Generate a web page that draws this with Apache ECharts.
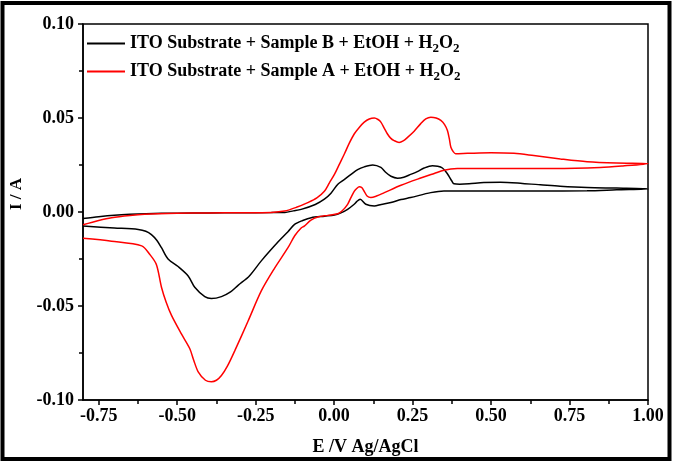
<!DOCTYPE html>
<html>
<head>
<meta charset="utf-8">
<script src="https://cdn.jsdelivr.net/npm/echarts@6/dist/echarts.min.js"></script>
<style>html,body{margin:0;padding:0;background:#fff}#c{width:675px;height:467px}</style>
</head>
<body>
<div id="c"></div>
<script>
// Sample B (black) forward scan, -0.8 -> 1.0 V : [E, I]
const sampleBForward = [
[-0.80,-0.0035],[-0.75,-0.0025],[-0.70,-0.0017],[-0.65,-0.0012],[-0.60,-0.0009],[-0.50,-0.0006],[-0.40,-0.0005],[-0.30,-0.0004],[-0.20,-0.0003],[-0.157,-0.0002],[-0.13,0.0006],[-0.105,0.0014],[-0.06,0.004],[-0.031,0.0068],[-0.01,0.010],[0.012,0.0148],[0.03,0.017],[0.054,0.020],[0.075,0.0225],[0.096,0.024],[0.123,0.025],[0.149,0.0237],[0.165,0.021],[0.181,0.019],[0.202,0.018],[0.222,0.0185],[0.244,0.020],[0.265,0.0215],[0.287,0.0234],[0.313,0.0246],[0.33,0.0243],[0.345,0.0234],[0.358,0.021],[0.366,0.019],[0.375,0.0165],[0.382,0.015],[0.40,0.0148],[0.43,0.015],[0.477,0.0157],[0.53,0.0158],[0.60,0.0152],[0.657,0.0145],[0.72,0.0137],[0.806,0.013],[0.90,0.0127],[1.0,0.0123]
];
// Sample B (black) reverse scan, 1.0 -> -0.8 V
const sampleBReverse = [
[1.0,0.0123],[0.90,0.0118],[0.806,0.0113],[0.65,0.0112],[0.50,0.0112],[0.40,0.0112],[0.35,0.0112],[0.308,0.0103],[0.244,0.0077],[0.213,0.0066],[0.181,0.005],[0.15,0.004],[0.128,0.0032],[0.101,0.0041],[0.083,0.0068],[0.072,0.0055],[0.064,0.0041],[0.043,0.0014],[0.02,-0.0006],[0.001,-0.0016],[-0.03,-0.0022],[-0.073,-0.003],[-0.10,-0.0045],[-0.126,-0.0066],[-0.147,-0.0105],[-0.179,-0.016],[-0.232,-0.026],[-0.27,-0.034],[-0.306,-0.039],[-0.33,-0.0425],[-0.359,-0.045],[-0.391,-0.046],[-0.412,-0.045],[-0.444,-0.040],[-0.465,-0.034],[-0.497,-0.029],[-0.529,-0.025],[-0.55,-0.019],[-0.565,-0.015],[-0.582,-0.012],[-0.60,-0.0102],[-0.624,-0.0093],[-0.70,-0.0085],[-0.80,-0.0075]
];
// Sample A (red) forward scan
const sampleAForward = [
[-0.80,-0.0068],[-0.75,-0.0045],[-0.709,-0.003],[-0.65,-0.0018],[-0.604,-0.0012],[-0.50,-0.0007],[-0.40,-0.0005],[-0.30,-0.0004],[-0.20,-0.0002],[-0.158,0.0005],[-0.12,0.0025],[-0.084,0.005],[-0.055,0.0075],[-0.031,0.011],[-0.015,0.0155],[0.001,0.020],[0.017,0.0255],[0.033,0.031],[0.048,0.0365],[0.064,0.0415],[0.08,0.045],[0.096,0.0478],[0.112,0.0495],[0.128,0.050],[0.14,0.0492],[0.149,0.0478],[0.16,0.0445],[0.17,0.0415],[0.18,0.0393],[0.191,0.038],[0.207,0.037],[0.22,0.0378],[0.234,0.0397],[0.255,0.043],[0.276,0.047],[0.292,0.0495],[0.308,0.0504],[0.325,0.050],[0.34,0.0487],[0.352,0.0465],[0.361,0.0433],[0.367,0.039],[0.372,0.0344],[0.38,0.032],[0.387,0.031],[0.425,0.0312],[0.50,0.0315],[0.573,0.0312],[0.636,0.030],[0.721,0.0282],[0.806,0.0267],[0.90,0.026],[1.0,0.0257]
];
// Sample A (red) reverse scan
const sampleAReverse = [
[1.0,0.0257],[0.92,0.0245],[0.848,0.0237],[0.70,0.0232],[0.53,0.0232],[0.45,0.0232],[0.393,0.0231],[0.35,0.0222],[0.319,0.0205],[0.266,0.0175],[0.213,0.0142],[0.16,0.0103],[0.135,0.0085],[0.117,0.0077],[0.105,0.0085],[0.096,0.011],[0.088,0.013],[0.08,0.0134],[0.072,0.0125],[0.064,0.011],[0.053,0.0075],[0.043,0.0041],[0.025,0.0005],[0.0116,-0.0009],[-0.02,-0.0018],[-0.052,-0.0027],[-0.075,-0.0045],[-0.095,-0.0075],[-0.105,-0.0085],[-0.125,-0.0125],[-0.147,-0.019],[-0.19,-0.030],[-0.232,-0.042],[-0.274,-0.058],[-0.317,-0.074],[-0.34,-0.082],[-0.359,-0.087],[-0.375,-0.0895],[-0.391,-0.0903],[-0.41,-0.0895],[-0.433,-0.085],[-0.447,-0.079],[-0.46,-0.0726],[-0.486,-0.065],[-0.518,-0.055],[-0.535,-0.048],[-0.55,-0.040],[-0.566,-0.028],[-0.587,-0.0226],[-0.613,-0.018],[-0.709,-0.0155],[-0.80,-0.014]
];
const xTickValues = [-0.75,-0.5,-0.25,0,0.25,0.5,0.75,1.0];
const xMinorTickValues = [-0.625,-0.375,-0.125,0.125,0.375,0.625,0.875];
const seriesNames = ['ITO Substrate + Sample B + EtOH + H2O2','ITO Substrate + Sample A + EtOH + H2O2'];

const FONT = '"Liberation Serif", "Times New Roman", serif';
const chart = echarts.init(document.getElementById('c'), null, {renderer:'canvas'});
chart.setOption({
  animation:false,
  backgroundColor:'#fff',
  grid:{left:81, right:27, top:24, bottom:67, show:true, borderColor:'#000', borderWidth:1.5, backgroundColor:'transparent'},
  legend:{
    orient:'vertical', left:82, top:29, itemWidth:38, itemHeight:2, itemGap:7, icon:'rect',
    data:seriesNames,
    formatter:function(n){
      const s = n.replace('H2O2','');
      return '{t|' + s + 'H}{s|2}{t|O}{s|2}';
    },
    textStyle:{
      rich:{
        t:{fontFamily:FONT, fontWeight:'bold', fontSize:18, color:'#000', lineHeight:23},
        s:{fontFamily:FONT, fontWeight:'bold', fontSize:13, color:'#000', lineHeight:23, verticalAlign:'bottom', padding:[8,0,0,0]}
      }
    }
  },
  xAxis:[{
    type:'value', min:-0.8, max:1.0, position:'bottom',
    axisLine:{onZero:false, lineStyle:{color:'#000', width:1.5}},
    axisTick:{show:true, length:5, lineStyle:{color:'#000', width:1.5}, customValues:xTickValues},
    axisLabel:{customValues:xTickValues, formatter:v=>v.toFixed(2), fontFamily:FONT, fontWeight:'bold', fontSize:18, color:'#000', margin:7},
    splitLine:{show:false},
    name:'E /V Ag/AgCl', nameLocation:'middle', nameGap:38,
    nameTextStyle:{fontFamily:FONT, fontWeight:'bold', fontSize:18, color:'#000'}
  },{
    type:'value', min:-0.8, max:1.0, position:'bottom',
    axisLine:{show:false, onZero:false},
    axisTick:{show:true, length:4, lineStyle:{color:'#000', width:1.5}, customValues:xMinorTickValues},
    axisLabel:{show:false}, splitLine:{show:false}
  }],
  yAxis:{
    type:'value', min:-0.1, max:0.1, interval:0.05,
    axisLine:{show:true, onZero:false, lineStyle:{color:'#000', width:1.5}},
    axisTick:{show:true, length:5, lineStyle:{color:'#000', width:1.5}},
    minorTick:{show:true, splitNumber:2, length:4, lineStyle:{color:'#000', width:1.5}},
    axisLabel:{formatter:v=>v.toFixed(2), fontFamily:FONT, fontWeight:'bold', fontSize:18, color:'#000', margin:9},
    splitLine:{show:false},
    name:'I / A', nameLocation:'middle', nameGap:58, nameRotate:90,
    nameTextStyle:{fontFamily:FONT, fontWeight:'bold', fontSize:17, color:'#000', padding:[0,0,0,36]}
  },
  series:[
    {name:seriesNames[0], type:'line', xAxisIndex:0, data:sampleBForward.concat(sampleBReverse), showSymbol:false, smooth:0.3, lineStyle:{color:'#000', width:1.5}, itemStyle:{color:'#000'}},
    {name:seriesNames[1], type:'line', xAxisIndex:0, data:sampleAForward.concat(sampleAReverse), showSymbol:false, smooth:0.3, lineStyle:{color:'#ff0000', width:1.5}, itemStyle:{color:'#ff0000'}}
  ],
  graphic:[{type:'rect', shape:{x:2.5, y:3, width:667, height:456}, style:{fill:'none', stroke:'#000', lineWidth:4}, silent:true}]
});
</script>
</body>
</html>
